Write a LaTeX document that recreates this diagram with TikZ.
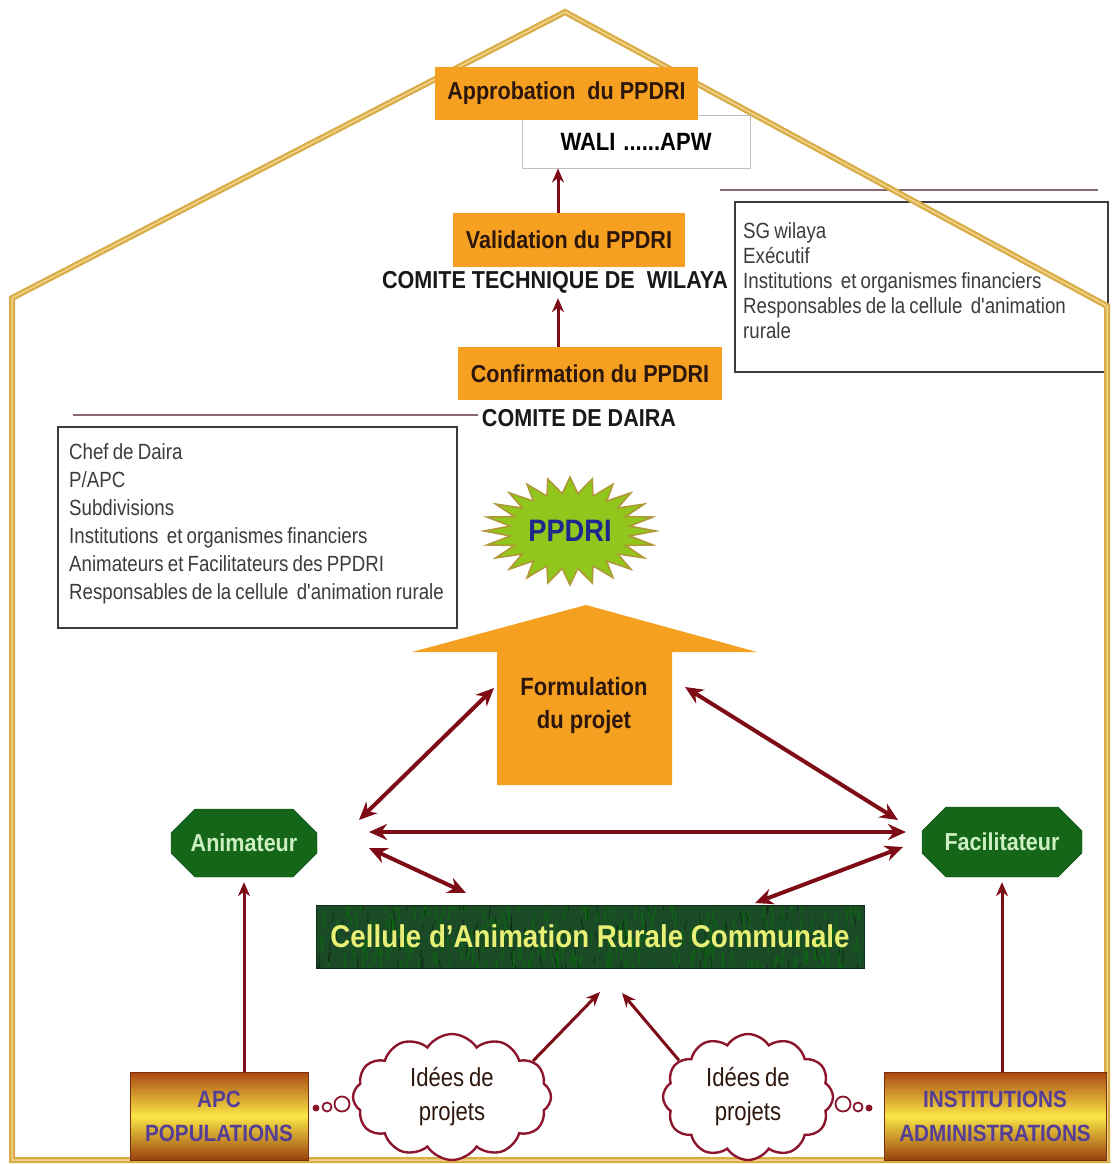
\documentclass[tikz,border=0pt]{standalone}
\usepackage{fontspec}
\setmainfont{Liberation Sans}
\newfontfamily\condb[FakeStretch=0.88]{Liberation Sans Bold}
\newfontfamily\condr[FakeStretch=0.85,WordSpace=0.8]{Liberation Sans}
\usetikzlibrary{arrows.meta,shapes.misc,shapes.symbols,calc}
\definecolor{boxorange}{RGB}{245,160,32}
\definecolor{darktxt}{RGB}{45,22,12}
\definecolor{arrred}{RGB}{125,12,22}
\definecolor{housegold}{RGB}{218,172,72}
\definecolor{houselight}{RGB}{240,212,140}
\definecolor{hexgreen}{RGB}{22,102,26}
\definecolor{hextxt}{RGB}{205,240,195}
\definecolor{cellgreen}{RGB}{26,74,38}
\definecolor{celltxt}{RGB}{232,240,118}
\definecolor{listgray}{RGB}{60,60,60}
\definecolor{ruleline}{RGB}{140,105,112}
\definecolor{starfill}{RGB}{145,198,28}
\definecolor{starline}{RGB}{175,150,55}
\definecolor{startxt}{RGB}{28,40,140}
\definecolor{bandbrown}{RGB}{170,72,18}
\definecolor{bandyellow}{RGB}{250,230,70}
\definecolor{bandtxt}{RGB}{85,62,150}
\definecolor{cloudline}{RGB}{140,22,45}
\tikzset{
  orangebox/.style={fill=boxorange, inner sep=0pt, text=darktxt,
    font=\condb\fontsize{24.5}{28}\selectfont},
  comite/.style={text=black!90, inner sep=3pt, font=\condb\fontsize{24.5}{28}\selectfont},
  listframe/.style={draw=listgray, line width=1.5, fill=white},
  listtext/.style={align=left, text=listgray, inner sep=0pt,
    anchor=north west, font=\condr\fontsize{22}{25}\selectfont},
  hexbox/.style={chamfered rectangle, chamfered rectangle xsep=12pt, chamfered rectangle ysep=15pt,
    fill=hexgreen, draw=hexgreen!80!black, text=hextxt, inner sep=0pt,
    font=\condb\fontsize{24.5}{28}\selectfont},
  bandbox/.style={top color=bandbrown, bottom color=bandbrown!90!black, middle color=bandyellow,
    draw=bandbrown!70!black, inner sep=0pt, align=center, text=bandtxt,
    font=\condb\fontsize{23.5}{34}\selectfont},
  idea/.style={cloud, cloud puffs=12, cloud puff arc=115, aspect=1.6, draw=cloudline,
    line width=2.4, fill=white, align=center, text=darktxt, inner sep=0pt,
    font=\condr\fontsize{26}{34}\selectfont},
  bubble/.style={circle, draw=cloudline, line width=1.8, fill=white, inner sep=0pt},
  dblarrow/.style={arrred, line width=4,
    {Stealth[length=18pt,width=16pt]}-{Stealth[length=18pt,width=16pt]}},
  uparrow/.style={arrred, line width=3, -{Stealth[length=14pt,width=12pt]}},
  houseline/.style={line join=miter},
}
\begin{document}
\begin{tikzpicture}[x=1pt,y=-1pt]
\useasboundingbox (0,0) rectangle (1111,1164);
\fill[white] (0,0) rectangle (1111,1164);

% right list (lies under the roof line)
\draw[ruleline, line width=2] (720,190) -- (1098,190);
\draw[listframe] (735,202) rectangle (1108,372);
\node[listtext] (rlist) at (743,222)
  {SG wilaya\\Exécutif\\Institutions\ \ et organismes financiers\\Responsables de la cellule\ \ d'animation\\rurale};

% house outline
\draw[housegold, line width=6, houseline] (12,1160) -- (12,298) -- (565,12) -- (1107,306) -- (1107,1160) -- cycle;
\draw[houselight, line width=1.5, houseline] (12,1160) -- (12,298) -- (565,12) -- (1107,306) -- (1107,1160) -- cycle;

% top chain
\coordinate (ax) at (558,0);
\node[draw=black!25, line width=1, fill=white, minimum width=228, minimum height=53, inner sep=0pt,
  font=\condb\fontsize{25}{28}\selectfont] (wali) at (636,141.5) {WALI\hspace{8pt}......APW};
\node[orangebox, minimum width=263, minimum height=53] (appr) at (566.5,93.5) {Approbation\ \ du PPDRI};
\node[orangebox, minimum width=232, minimum height=54] (val) at (569,240) {Validation du PPDRI};
\node[comite] (ctw) at (555,282) {COMITE TECHNIQUE DE\ \ WILAYA};
\node[orangebox, minimum width=264, minimum height=53] (conf) at (590,373.5) {Confirmation du PPDRI};
\node[comite] (cdd) at (579,418) {COMITE DE DAIRA};
\draw[uparrow] (val.north -| ax) -- (wali.south -| ax);
\draw[uparrow, shorten >=2pt] (conf.north -| ax) -- (ctw.south -| ax);

% left list
\draw[ruleline, line width=2] (73,415) -- (478,415);
\draw[listframe] (58,427) rectangle (457,628);
\node[listtext, font=\condr\fontsize{22}{28}\selectfont] (llist) at (69,443)
  {Chef de Daira\\P/APC\\Subdivisions\\Institutions\ \ et organismes financiers\\Animateurs et Facilitateurs des PPDRI\\Responsables de la cellule\ \ d'animation rurale};

% PPDRI starburst
\draw[fill=starfill, draw=starline, line width=1.5]
  (656,531) \foreach \i in {1,...,47} { -- ({570+86*(1-0.3*mod(\i,2))*cos(7.5*\i)},{531+54*(1-0.3*mod(\i,2))*sin(7.5*\i)}) } -- cycle;
\node[text=startxt, font=\condb\fontsize{31}{34}\selectfont] (ppdri) at (570,531) {PPDRI};

% formulation arrow
\fill[boxorange] (586,605) -- (757,652) -- (672,652) -- (672,785) -- (497,785) -- (497,652) -- (412,652) -- cycle;
\node[align=center, text=darktxt, font=\condb\fontsize{25}{33}\selectfont] (form) at (584,706) {Formulation\\du projet};

% animateur / facilitateur
\node[hexbox, minimum width=146, minimum height=68] (anim) at (244,843) {Animateur};
\node[hexbox, minimum width=160, minimum height=70] (facil) at (1002,842) {Facilitateur};

% cellule
\fill[cellgreen] (316,905) rectangle (864,968);
\begin{scope}
  \clip (316,905) rectangle (864,968);
  \pgfmathsetseed{7}
  \foreach \k in {1,...,320} {
    \draw[line width=1.3, color=green!50!black, opacity=0.45]
      ({316+548*rnd},{900+68*rnd}) -- ++({5*rnd-2.5},{7+10*rnd});
  }
  \foreach \k in {1,...,120} {
    \draw[line width=1, color=black, opacity=0.35]
      ({316+548*rnd},{900+68*rnd}) -- ++({5*rnd-2.5},{6+8*rnd});
  }
\end{scope}
\node[draw=cellgreen!60!black, line width=1, minimum width=548, minimum height=63, inner sep=0pt,
  text=celltxt, font=\condb\fontsize{31.5}{34}\selectfont] (cell) at (590,936.5)
  {Cellule d’Animation Rurale Communale};

% double arrows
\coordinate (fL) at (494,688);
\coordinate (fR) at (685,687);
\coordinate (aU) at (359,820);
\coordinate (aM) at (369,832);
\coordinate (aD) at (369,848);
\coordinate (bU) at (898,820);
\coordinate (bM) at (906,832);
\coordinate (bD) at (903,847);
\coordinate (cL) at (466,893);
\coordinate (cR) at (755,903);
\draw[dblarrow] (fL) -- (aU);
\draw[dblarrow] (fR) -- (bU);
\draw[dblarrow] (aM) -- (bM);
\draw[dblarrow] (aD) -- (cL);
\draw[dblarrow] (bD) -- (cR);

% bottom row
\node[bandbox, minimum width=178, minimum height=88] (apc) at (219,1116) {APC\\POPULATIONS};
\node[bandbox, minimum width=222, minimum height=88] (inst) at (995,1116) {INSTITUTIONS\\ADMINISTRATIONS};
\node[idea, minimum width=198, minimum height=126] (cl1) at (452,1097) {Idées de\\projets};
\node[idea, minimum width=170, minimum height=126] (cl2) at (748,1097) {Idées de\\projets};
\node[bubble, fill=cloudline, minimum size=5] (b1) at (316,1108) {};
\node[bubble, minimum size=9] (b2) at (327,1107) {};
\node[bubble, minimum size=15] (b3) at (342,1104) {};
\node[bubble, minimum size=15] (b4) at (843,1104) {};
\node[bubble, minimum size=9] (b5) at (858,1107) {};
\node[bubble, fill=cloudline, minimum size=5] (b6) at (869,1108) {};

\coordinate (cA) at (600,992);
\coordinate (cB) at (622,993);
\draw[uparrow] (apc.north -| anim.south) -- ([yshift=-5pt]anim.south);
\draw[uparrow] (inst.north -| facil.south) -- ([yshift=-5pt]facil.south);
\draw[uparrow] (cl1.24) -- (cA);
\draw[uparrow] (cl2.152) -- (cB);
\end{tikzpicture}
\end{document}
